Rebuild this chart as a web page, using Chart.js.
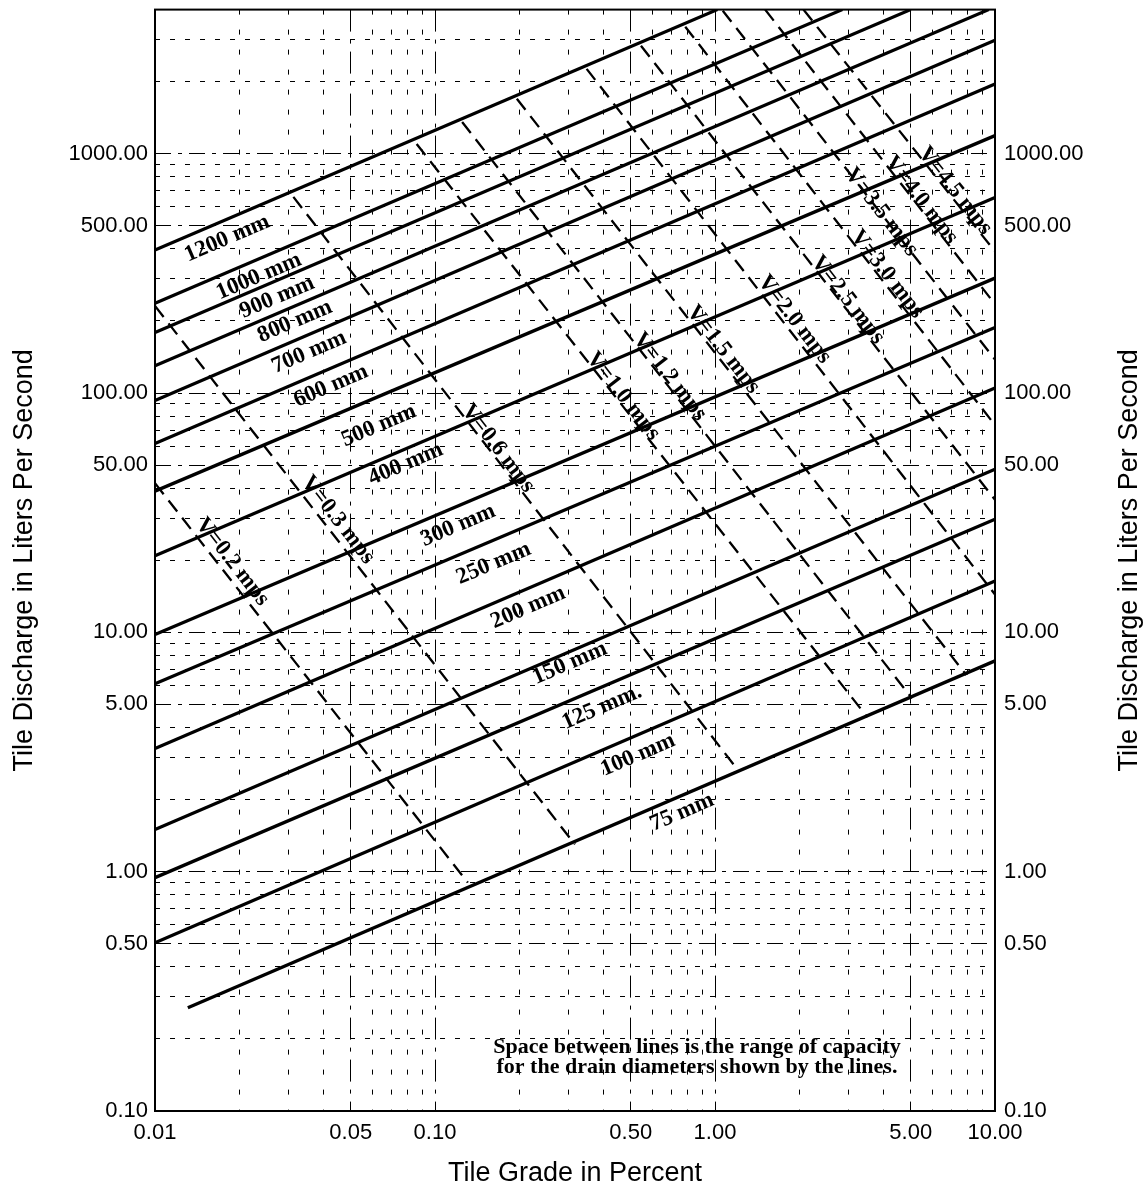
<!DOCTYPE html>
<html>
<head>
<meta charset="utf-8">
<script src="https://cdn.jsdelivr.net/npm/chart.js@4.4.1/dist/chart.umd.min.js"></script>
<style>
html,body{margin:0;padding:0;background:#fff;}
#wrap{width:1143px;height:1184px;}
</style>
</head>
<body>
<div id="wrap"><canvas id="c" width="1143" height="1184"></canvas></div>
<script>
// ---------- DATA ----------
// Drain-diameter lines (solid): start and end points (grade %, discharge L/s)
const diameters  = ['75 mm','100 mm','125 mm.','150 mm','200 mm','250 mm','300 mm','400 mm','500 mm','600 mm','700 mm','800 mm','900 mm','1000 mm','1200 mm'];
const pipeStartX = [0.0131, 0.01, 0.01, 0.01, 0.01, 0.01, 0.01, 0.01, 0.01, 0.01, 0.01, 0.01, 0.01, 0.01, 0.01];
const pipeStartQ = [0.27, 0.505, 0.944, 1.50, 3.27, 6.1, 9.8, 20.9, 38.9, 61.5, 93, 130, 179, 237, 396];
const pipeEndX   = [10, 10, 10, 10, 10, 10, 10, 10, 10, 10, 10, 9.5, 5.0, 2.85, 1.02];
const pipeEndQ   = [7.6, 16.4, 29.7, 48, 105, 188, 302, 656, 1190, 1955, 2980, 4000, 4000, 4000, 4000];

// Velocity lines (dashed)
const velocities = ['V=0.2 mps','V=0.3 mps','V=0.6 mps','V=1.0 mps','V=1.2 mps','V=1.5 mps','V=2.0 mps','V=2.5 mps','V=3.0 mps','V=3.5 mps','V=4.0 mps','V=4.5 mps'];
const velStartX = [0.01, 0.01, 0.0312, 0.086, 0.125, 0.196, 0.348, 0.544, 0.783, 1.066, 1.51, 2.07];
const velStartQ = [42, 231, 660, 1098, 1357, 1696, 2262, 2827, 3393, 3958, 4000, 4000];
const velEndX   = [0.131, 0.316, 1.195, 3.5, 5.05, 7.9, 10, 10, 10, 10, 10, 10];
const velEndQ   = [0.90, 1.30, 2.70, 4.42, 5.3, 6.63, 14.4, 35.8, 73.4, 138, 235, 390];

// Axes
const xMin = 0.01, xMax = 10;
const yMin = 0.1,  yMax = 4000;
const xGridValues = [0.01,0.02,0.03,0.04,0.05,0.06,0.07,0.08,0.09,
                     0.1,0.2,0.3,0.4,0.5,0.6,0.7,0.8,0.9,
                     1,2,3,4,5,6,7,8,9,10];
const yGridValues = [0.1,0.2,0.3,0.4,0.5,0.6,0.7,0.8,0.9,
                     1,2,3,4,5,6,7,8,9,
                     10,20,30,40,50,60,70,80,90,
                     100,200,300,400,500,600,700,800,900,
                     1000,2000,3000,4000];
const xTickLabels = [0.01, 0.05, 0.1, 0.5, 1, 5, 10];
const yTickLabels = [0.1, 0.5, 1, 5, 10, 50, 100, 500, 1000];
const majorGrid   = [0.01, 0.05, 0.1, 0.5, 1, 5, 10, 50, 100, 500, 1000];

const xTitle = 'Tile Grade in Percent';
const yTitle = 'Tile Discharge in Liters Per Second';
const noteLines = ['Space between lines is the range of capacity', 'for the drain diameters shown by the lines.'];

// ---------- STYLE / PLACEMENT ----------
const style = {
  tickFamily: '"Liberation Sans", Arial, sans-serif',
  titleFont: '27px "Liberation Sans", Arial, sans-serif',
  diaFont: 'bold 23px "Liberation Serif", "Times New Roman", serif',
  velFont: 'bold 23px "Liberation Serif", "Times New Roman", serif',
  noteFont: 'bold 22px "Liberation Serif", "Times New Roman", serif',
  // label centres in data coordinates (grade, discharge)
  diaLabelPos: [[0.762,1.77],[0.531,3.07],[0.395,4.87],[0.303,7.43],[0.215,12.7],[0.162,19.4],[0.121,28.0],
                [0.0785,50.5],[0.0630,73.0],[0.0425,107],[0.0355,148],[0.0316,199],[0.0273,251],[0.0235,307],[0.0181,442]],
  velLabelPos: [[0.0189,19.7],[0.0450,29.5],[0.168,58.7],[0.470,97],[0.690,117],[1.07,152],[1.92,203],
                [2.98,245],[4.12,314],[3.93,570],[5.45,640],[7.20,700]],
  notePos: [0.862, 0.185],
  noteLineGap: 20
};

const near = (a, b) => Math.abs(a - b) <= 1e-9 * Math.max(1, Math.abs(b));
const inList = (v, list) => list.some(t => near(v, t));

const datasets = [];
velocities.forEach((name, i) => {
  datasets.push({
    label: name,
    data: [{x: velStartX[i], y: velStartQ[i]}, {x: velEndX[i], y: velEndQ[i]}],
    borderColor: '#000', borderWidth: 2.3, borderDash: [14, 8],
    pointRadius: 0, fill: false, tension: 0
  });
});
diameters.forEach((name, i) => {
  datasets.push({
    label: name,
    data: [{x: pipeStartX[i], y: pipeStartQ[i]}, {x: pipeEndX[i], y: pipeEndQ[i]}],
    borderColor: '#000', borderWidth: 3.3,
    pointRadius: 0, fill: false, tension: 0
  });
});

const annot = {
  id: 'annot',
  beforeDatasetsDraw(chart) {
    const {ctx, chartArea: a} = chart;
    ctx.save();
    ctx.strokeStyle = '#000';
    ctx.lineWidth = 2;
    ctx.strokeRect(a.left, a.top, a.right - a.left, a.bottom - a.top);
    ctx.restore();
  },
  afterDraw(chart) {
    const {ctx, chartArea: a, scales: {x, y}} = chart;
    ctx.save();
    ctx.fillStyle = '#000';
    ctx.textAlign = 'center';
    ctx.textBaseline = 'middle';
    ctx.font = style.diaFont;
    diameters.forEach((name, i) => {
      const ang = Math.atan2(y.getPixelForValue(pipeEndQ[i]) - y.getPixelForValue(pipeStartQ[i]),
                             x.getPixelForValue(pipeEndX[i]) - x.getPixelForValue(pipeStartX[i]));
      const [lx, ly] = style.diaLabelPos[i];
      ctx.save();
      ctx.translate(x.getPixelForValue(lx), y.getPixelForValue(ly));
      ctx.rotate(ang);
      ctx.fillText(name, 0, 0);
      ctx.restore();
    });
    ctx.font = style.velFont;
    velocities.forEach((name, i) => {
      const ang = Math.atan2(y.getPixelForValue(velEndQ[i]) - y.getPixelForValue(velStartQ[i]),
                             x.getPixelForValue(velEndX[i]) - x.getPixelForValue(velStartX[i]));
      const [lx, ly] = style.velLabelPos[i];
      ctx.save();
      ctx.translate(x.getPixelForValue(lx), y.getPixelForValue(ly));
      ctx.rotate(ang);
      ctx.fillText(name, 0, 0);
      ctx.restore();
    });
    ctx.font = style.noteFont;
    const nx = x.getPixelForValue(style.notePos[0]);
    const ny = y.getPixelForValue(style.notePos[1]);
    noteLines.forEach((t, k) => ctx.fillText(t, nx, ny + k * style.noteLineGap));
    ctx.font = style.titleFont;
    const cy = (a.top + a.bottom) / 2;
    ctx.textBaseline = 'alphabetic';
    ctx.save(); ctx.translate(32, cy); ctx.rotate(-Math.PI / 2); ctx.fillText(yTitle, 0, 0); ctx.restore();
    ctx.save(); ctx.translate(1137, cy); ctx.rotate(-Math.PI / 2); ctx.fillText(yTitle, 0, 0); ctx.restore();
    ctx.fillText(xTitle, (a.left + a.right) / 2, 1181);
    ctx.restore();
  }
};

const majorH = [16, 7, 4, 7], minorH = [5, 10];
const majorV = [22, 8, 4, 8], minorV = [5, 15];

const tickFont = (list) => (c) => ({family: style.tickFamily, size: (c.tick && inList(c.tick.value, list)) ? 22 : 1});

const yTicksCfg = (pad) => ({
  autoSkip: false, color: '#000', padding: pad,
  font: tickFont(yTickLabels),
  callback: (v) => inList(v, yTickLabels) ? Number(v).toFixed(2) : ''
});

new Chart(document.getElementById('c'), {
  type: 'line',
  data: {datasets},
  options: {
    responsive: false, animation: false, devicePixelRatio: 1,
    layout: {padding: {top: 9, left: 0, right: 0, bottom: 0}},
    plugins: {legend: {display: false}, tooltip: {enabled: false}},
    scales: {
      x: {
        type: 'logarithmic', min: xMin, max: xMax,
        afterBuildTicks: s => { s.ticks = xGridValues.map(v => ({value: v})); },
        afterFit: s => { s.height = 73; },
        ticks: {
          autoSkip: false, maxRotation: 0, minRotation: 0, color: '#000', padding: 9,
          font: tickFont(xTickLabels),
          callback: (v) => inList(v, xTickLabels) ? Number(v).toFixed(2) : ''
        },
        grid: {color: '#000', lineWidth: 1, drawTicks: false},
        border: {display: false, dash: c => (c.tick ? (inList(c.tick.value, majorGrid) ? majorV : minorV) : [])}
      },
      y: {
        type: 'logarithmic', position: 'left', min: yMin, max: yMax,
        afterBuildTicks: s => { s.ticks = yGridValues.map(v => ({value: v})); },
        afterFit: s => { s.width = 155; },
        ticks: yTicksCfg(7),
        grid: {color: '#000', lineWidth: 1, drawTicks: false},
        border: {display: false, dash: c => (c.tick ? (inList(c.tick.value, majorGrid) ? majorH : minorH) : [])}
      },
      y2: {
        type: 'logarithmic', position: 'right', min: yMin, max: yMax,
        afterBuildTicks: s => { s.ticks = yGridValues.map(v => ({value: v})); },
        afterFit: s => { s.width = 148; },
        ticks: yTicksCfg(9),
        grid: {display: false, drawTicks: false},
        border: {display: false}
      }
    }
  },
  plugins: [annot]
});
</script>
</body>
</html>
